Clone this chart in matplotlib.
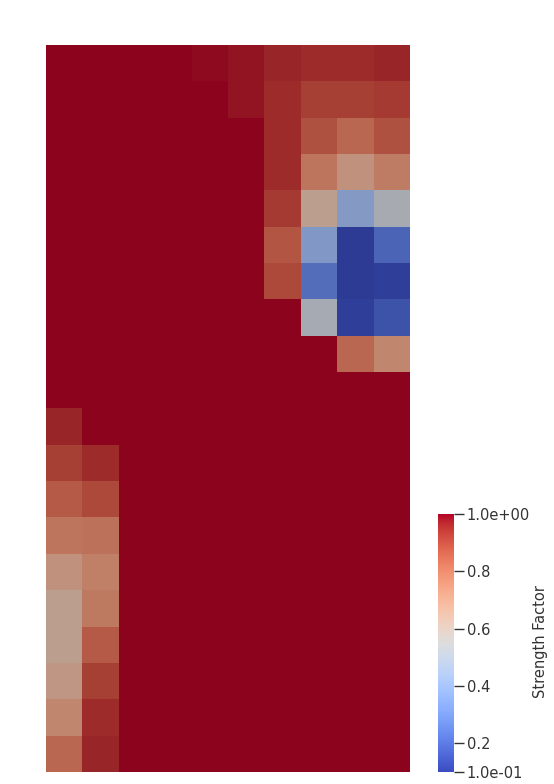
import numpy as np
import matplotlib
matplotlib.use("Agg")
import matplotlib.pyplot as plt
from matplotlib.colors import ListedColormap, Normalize
import matplotlib.cm as cm

# Strength factor per cell: 20 rows (top to bottom) x 10 columns (left to right)
row_00 = [1.00, 1.00, 1.00, 1.00, 0.99, 0.98, 0.96, 0.95, 0.95, 0.96]
row_01 = [1.00, 1.00, 1.00, 1.00, 1.00, 0.98, 0.95, 0.91, 0.91, 0.92]
row_02 = [1.00, 1.00, 1.00, 1.00, 1.00, 1.00, 0.95, 0.87, 0.82, 0.87]
row_03 = [1.00, 1.00, 1.00, 1.00, 1.00, 1.00, 0.95, 0.78, 0.69, 0.76]
row_04 = [1.00, 1.00, 1.00, 1.00, 1.00, 1.00, 0.92, 0.64, 0.40, 0.53]
row_05 = [1.00, 1.00, 1.00, 1.00, 1.00, 1.00, 0.86, 0.39, 0.10, 0.21]
row_06 = [1.00, 1.00, 1.00, 1.00, 1.00, 1.00, 0.89, 0.24, 0.10, 0.11]
row_07 = [1.00, 1.00, 1.00, 1.00, 1.00, 1.00, 1.00, 0.52, 0.11, 0.16]
row_08 = [1.00, 1.00, 1.00, 1.00, 1.00, 1.00, 1.00, 1.00, 0.82, 0.73]
row_09 = [1.00, 1.00, 1.00, 1.00, 1.00, 1.00, 1.00, 1.00, 1.00, 1.00]
row_10 = [0.96, 1.00, 1.00, 1.00, 1.00, 1.00, 1.00, 1.00, 1.00, 1.00]
row_11 = [0.91, 0.95, 1.00, 1.00, 1.00, 1.00, 1.00, 1.00, 1.00, 1.00]
row_12 = [0.85, 0.89, 1.00, 1.00, 1.00, 1.00, 1.00, 1.00, 1.00, 1.00]
row_13 = [0.78, 0.79, 1.00, 1.00, 1.00, 1.00, 1.00, 1.00, 1.00, 1.00]
row_14 = [0.69, 0.75, 1.00, 1.00, 1.00, 1.00, 1.00, 1.00, 1.00, 1.00]
row_15 = [0.64, 0.77, 1.00, 1.00, 1.00, 1.00, 1.00, 1.00, 1.00, 1.00]
row_16 = [0.64, 0.85, 1.00, 1.00, 1.00, 1.00, 1.00, 1.00, 1.00, 1.00]
row_17 = [0.67, 0.91, 1.00, 1.00, 1.00, 1.00, 1.00, 1.00, 1.00, 1.00]
row_18 = [0.73, 0.95, 1.00, 1.00, 1.00, 1.00, 1.00, 1.00, 1.00, 1.00]
row_19 = [0.82, 0.96, 1.00, 1.00, 1.00, 1.00, 1.00, 1.00, 1.00, 1.00]

rows = [row_00, row_01, row_02, row_03, row_04, row_05, row_06, row_07, row_08, row_09,
        row_10, row_11, row_12, row_13, row_14, row_15, row_16, row_17, row_18, row_19]
values = np.array(rows)

vmin, vmax = 0.1, 1.0
cbar_ticks = [0.1, 0.2, 0.4, 0.6, 0.8, 1.0]
cbar_ticklabels = ["1.0e-01", "0.2", "0.4", "0.6", "0.8", "1.0e+00"]
cbar_title = "Strength Factor"

W, H = 554, 784
fig = plt.figure(figsize=(W / 100, H / 100), dpi=100)
fig.patch.set_facecolor("white")

# shaded (lit) version of the colormap for the surface
base = cm.get_cmap("coolwarm") if hasattr(cm, "get_cmap") else matplotlib.colormaps["coolwarm"]
base = matplotlib.colormaps["coolwarm"]
cols = base(np.linspace(0, 1, 256))
cols[:, :3] *= 0.78
shaded = ListedColormap(cols)

norm = Normalize(vmin=vmin, vmax=vmax)

ax = fig.add_axes([46 / W, 1 - 772 / H, 364 / W, 727 / H])
ax.imshow(values, cmap=shaded, norm=norm, aspect="auto", interpolation="nearest")
ax.set_axis_off()

cax = fig.add_axes([438 / W, 1 - 772 / H, 16 / W, 258 / H])
sm = cm.ScalarMappable(norm=norm, cmap=base)
cb = fig.colorbar(sm, cax=cax, ticks=cbar_ticks)
cb.set_ticklabels(cbar_ticklabels)
cb.outline.set_visible(False)
cax.tick_params(axis="y", length=7, width=1.0, color="#333333", labelcolor="#333333",
                labelsize=10.5, pad=2)

fig.text(540 / W, 1 - 642 / H, cbar_title, rotation=90, ha="center", va="center",
         fontsize=10.5, color="#333333")

fig.savefig("out.png", dpi=100)
